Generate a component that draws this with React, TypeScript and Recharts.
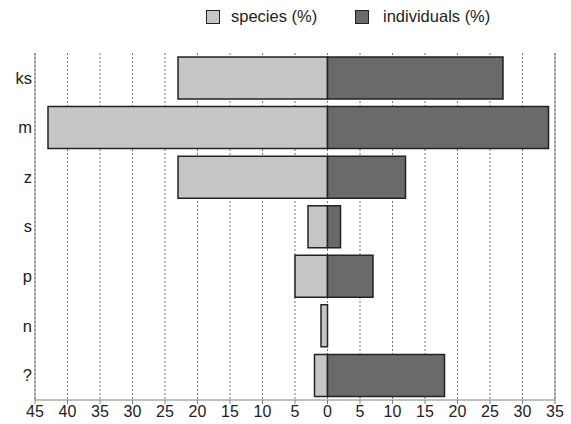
import React from "react";
import { BarChart, Bar, XAxis, YAxis, CartesianGrid, Legend, ReferenceLine } from "recharts";

const categories = ["ks", "m", "z", "s", "p", "n", "?"];
const speciesPct = [23, 43, 23, 3, 5, 1, 2];
const individualsPct = [27, 34, 12, 2, 7, 0, 18];
const xTicks = [-45, -40, -35, -30, -25, -20, -15, -10, -5, 0, 5, 10, 15, 20, 25, 30, 35];

const LIGHT = "#c6c6c6";
const DARK = "#6a6a6a";
const EDGE = "#222222";
const AXIS = "#808080";
const FONT = "'Liberation Sans', Arial, sans-serif";

const data = categories.map((c, i) => ({
  cat: c,
  species: -speciesPct[i],
  individuals: individualsPct[i],
}));

const LegendContent = () => (
  <div style={{ position: "relative", width: 571, height: 40, fontFamily: FONT, fontSize: 16.5, color: "#222" }}>
    <div style={{ position: "absolute", left: 206, top: 10, width: 12, height: 12, background: LIGHT, border: `1.5px solid ${EDGE}` }} />
    <div style={{ position: "absolute", left: 231, top: 6, lineHeight: "20px" }}>species (%)</div>
    <div style={{ position: "absolute", left: 355, top: 10, width: 12, height: 12, background: DARK, border: `1.5px solid ${EDGE}` }} />
    <div style={{ position: "absolute", left: 383, top: 6, lineHeight: "20px" }}>individuals (%)</div>
  </div>
);

export default function App() {
  return (
    <div style={{ position: "absolute", left: 0, top: 0, width: 571, height: 424, background: "#fff" }}>
      <BarChart
        width={571}
        height={424}
        data={data}
        layout="vertical"
        stackOffset="sign"
        barSize={42}
        margin={{ top: 13, right: 16, bottom: 0, left: 0 }}
      >
        <Legend verticalAlign="top" align="left" content={<LegendContent />} wrapperStyle={{ left: 0, top: 0, width: 571, height: 40 }} />
        <CartesianGrid horizontal={false} vertical stroke="#777" strokeDasharray="2 2" />
        <XAxis
          type="number"
          domain={[-45, 35]}
          ticks={xTicks}
          interval={0}
          tickFormatter={(v: number) => String(Math.abs(v))}
          height={24}
          tickSize={4}
          tickMargin={2}
          stroke={AXIS}
          tick={{ fill: "#222", fontSize: 16, fontFamily: FONT }}
        />
        <XAxis
          xAxisId="top"
          type="number"
          orientation="top"
          domain={[-45, 35]}
          height={0}
          tick={false}
          tickLine={false}
          stroke={AXIS}
        />
        <YAxis
          type="category"
          dataKey="cat"
          width={35}
          tickSize={0}
          tickMargin={3}
          stroke={AXIS}
          tick={{ fill: "#222", fontSize: 16.5, fontFamily: FONT }}
        />
        <ReferenceLine x={35} stroke={AXIS} />
        <Bar dataKey="species" stackId="a" fill={LIGHT} stroke={EDGE} strokeWidth={1.5} isAnimationActive={false} />
        <Bar dataKey="individuals" stackId="a" fill={DARK} stroke={EDGE} strokeWidth={1.5} isAnimationActive={false} />
      </BarChart>
    </div>
  );
}
